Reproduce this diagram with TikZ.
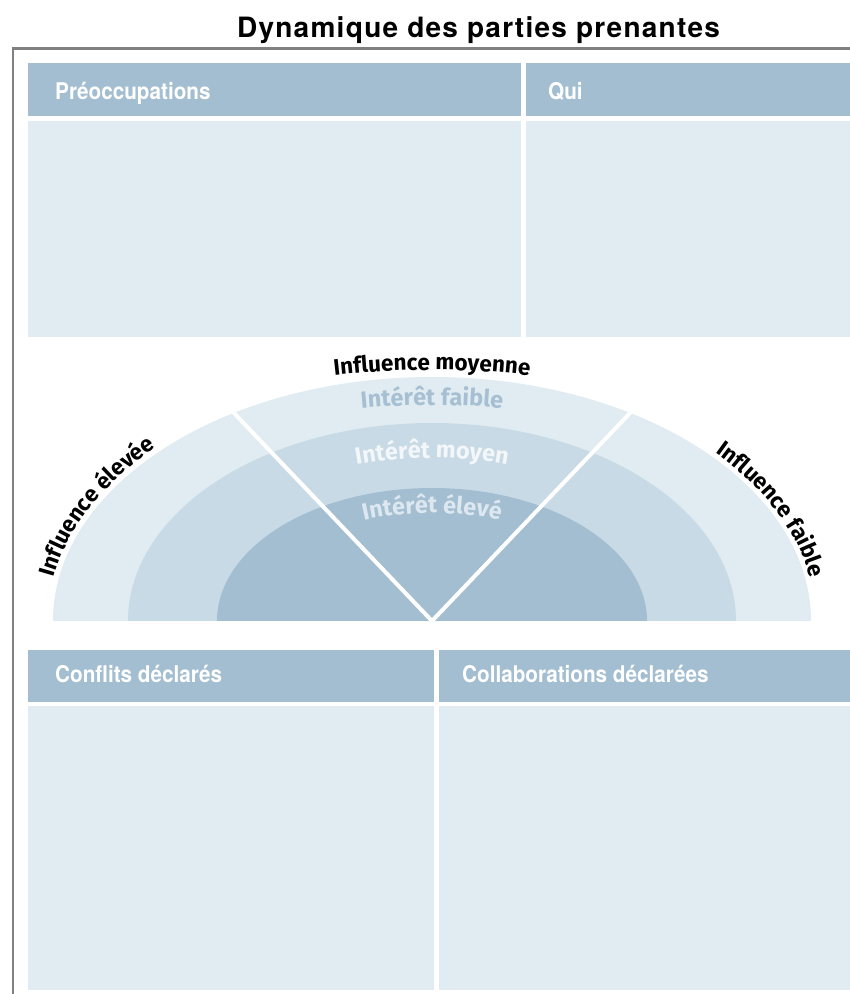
\documentclass[tikz,border=0pt]{standalone}
\usepackage{fontspec}
\setmainfont{TeX Gyre Heros}
\newfontfamily\titlefont[LetterSpace=4.5]{TeX Gyre Heros}
\newfontfamily\headfont[FakeStretch=0.9]{TeX Gyre Heros}
\newfontfamily\arcfont{Fira Sans}
\usetikzlibrary{decorations.text}
\definecolor{hdrblue}{HTML}{A3BED1}
\definecolor{cellblue}{HTML}{E0ECF1}
\definecolor{midblue}{HTML}{C8DAE5}
\definecolor{framegray}{HTML}{808080}
\definecolor{lowtext}{HTML}{A6BFD2}
\definecolor{midtext}{HTML}{F3F7FA}
\definecolor{hightext}{HTML}{DCE7EF}

\begin{document}
\begin{tikzpicture}[x=1pt,y=1pt,
  hdr/.style={fill=hdrblue, draw=none, inner sep=0pt, anchor=north west},
  cell/.style={fill=cellblue, draw=none, inner sep=0pt, anchor=north west},
  hdrtext/.style={anchor=base west, inner sep=0pt, text=white,
    font=\headfont\bfseries\fontsize{23}{26}\selectfont},
  arclabel/.style={decorate, decoration={text along path, text align=center,
    text={|\arcfont\bfseries\fontsize{22.5}{25}\selectfont|#1}}},
  ringlabel/.style 2 args={decorate, decoration={text along path, text align=center,
    text color=#1, text={|\arcfont\bfseries\fontsize{23.5}{26}\selectfont|#2}}}
]
\useasboundingbox (0,0) rectangle (850,994);
\fill[white] (0,0) rectangle (850,994);

% title
\node[anchor=base, inner sep=0pt, font=\titlefont\bfseries\fontsize{28}{32}\selectfont]
  (title) at (478.5,956) {Dynamique des parties prenantes};

% frame
\coordinate (fbl) at (13,0);
\coordinate (ftl) at (13,945.5);
\coordinate (ftr) at (850,945.5);
\draw[framegray, line width=2.5pt] (fbl) -- (ftl) -- (ftr);

% upper table
\node[hdr, minimum width=493, minimum height=53] (hPre) at (28,931) {};
\node[hdr, minimum width=324, minimum height=53] (hQui) at (526,931) {};
\node[cell, minimum width=493, minimum height=216] (bPre) at (28,873) {};
\node[cell, minimum width=324, minimum height=216] (bQui) at (526,873) {};
\node[hdrtext] (tPre) at (55,894) {Préoccupations};
\node[hdrtext] (tQui) at (548,894) {Qui};

% lower table
\node[hdr, minimum width=406, minimum height=52] (hCon) at (28,344) {};
\node[hdr, minimum width=411, minimum height=52] (hCol) at (439,344) {};
\node[cell, minimum width=406, minimum height=284] (bCon) at (28,288) {};
\node[cell, minimum width=411, minimum height=284] (bCol) at (439,288) {};
\node[hdrtext] (tCon) at (55,311) {Conflits déclarés};
\node[hdrtext] (tCol) at (462,311) {Collaborations déclarées};

% half-ellipse rings
\coordinate (C) at (432,373);
\fill[cellblue] ([shift={(C)}]-379,0) arc[start angle=180, end angle=0, x radius=379, y radius=244] -- cycle;
\fill[midblue] ([shift={(C)}]-304,0) arc[start angle=180, end angle=0, x radius=304, y radius=198] -- cycle;
\fill[hdrblue] ([shift={(C)}]-215,0) arc[start angle=180, end angle=0, x radius=215, y radius=133] -- cycle;

% sector dividers
\coordinate (wl) at (233,582);
\coordinate (wr) at (631,582);
\draw[white, line width=4pt] (wl) -- (C) -- (wr);

% influence labels around the outer edge
\path[arclabel={Influence moyenne}]
  ([shift={(C)}]115:470 and 251) arc[start angle=115, end angle=65, x radius=470, y radius=251];
\path[arclabel={Influence élevée}]
  ([shift={(C)}]186:384 and 249) arc[start angle=186, end angle=124, x radius=384, y radius=249];
\path[arclabel={Influence faible}]
  ([shift={(C)}]56:384 and 249) arc[start angle=56, end angle=-8, x radius=384, y radius=249];

% interest labels inside the rings
\path[ringlabel={lowtext}{Intérêt faible}]
  ([shift={(C)}]112:400 and 216) arc[start angle=112, end angle=68, x radius=400, y radius=216];
\path[ringlabel={midtext}{Intérêt moyen}]
  ([shift={(C)}]128:268 and 163) arc[start angle=128, end angle=52, x radius=268, y radius=163];
\path[ringlabel={hightext}{Intérêt élevé}]
  ([shift={(C)}]145:187 and 108) arc[start angle=145, end angle=35, x radius=187, y radius=108];
\end{tikzpicture}
\end{document}
